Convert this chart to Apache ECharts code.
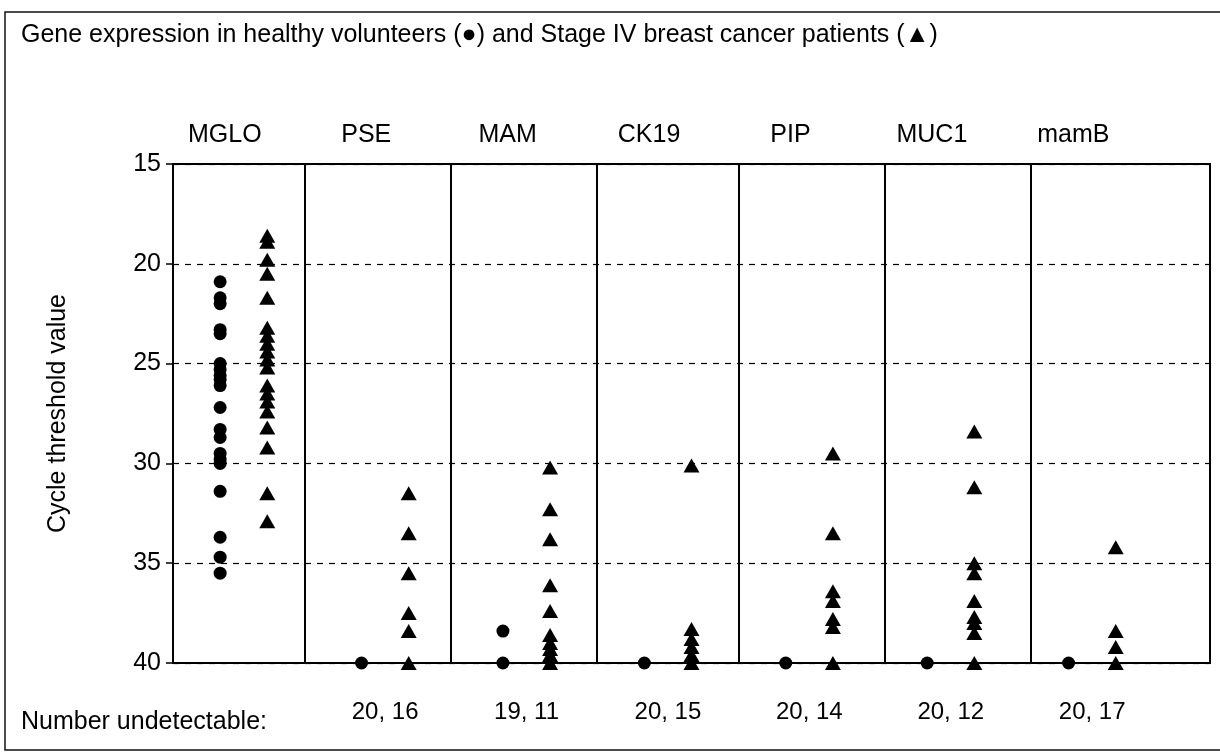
<!DOCTYPE html>
<html>
<head>
<meta charset="utf-8">
<title>Gene expression</title>
<script src="https://cdn.jsdelivr.net/npm/echarts@6/dist/echarts.min.js"></script>
<style>
  html, body { margin: 0; padding: 0; background: #fff; }
  #container { width: 1220px; height: 754px; }
</style>
</head>
<body>
<div id="container"></div>
<script type="text/javascript">
// genes, left to right
var genes = ['MGLO', 'PSE', 'MAM', 'CK19', 'PIP', 'MUC1', 'mamB'];
var undetectable = ['', '20, 16', '19, 11', '20, 15', '20, 14', '20, 12', '20, 17'];
var yTicks = [15, 20, 25, 30, 35, 40];

// cycle threshold values, healthy volunteers (circles)
var healthy = [
  [20.9, 21.7, 22.0, 23.3, 23.5, 25.0, 25.3, 25.6, 25.8, 26.1, 27.2, 28.3, 28.7, 29.5, 29.8, 30.0, 31.4, 33.7, 34.7, 35.5],
  [40],
  [38.4, 40],
  [40],
  [40],
  [40],
  [40]
];
// cycle threshold values, Stage IV patients (triangles)
var patients = [
  [18.6, 18.9, 19.8, 20.5, 21.7, 23.2, 23.6, 24.0, 24.4, 24.8, 25.2, 26.1, 26.5, 26.9, 27.4, 28.2, 29.2, 31.5, 32.9],
  [31.5, 33.5, 35.5, 37.5, 38.4, 40],
  [30.2, 32.3, 33.8, 36.1, 37.4, 38.6, 39.0, 39.3, 39.6, 40],
  [30.1, 38.3, 38.8, 39.2, 39.6, 40],
  [29.5, 33.5, 36.4, 36.9, 37.8, 38.2, 40],
  [28.4, 31.2, 35.0, 35.5, 36.9, 37.7, 38.0, 38.5, 40],
  [34.2, 38.4, 39.2, 40]
];
// column separators on the x scale
var dividers = [2.8, 5.9, 9.0, 12.0, 15.1, 18.2];

var font = 'Liberation Sans, Arial, sans-serif';

function points(groups, shift) {
  var out = [];
  for (var i = 0; i < groups.length; i++) {
    for (var j = 0; j < groups[i].length; j++) {
      out.push([3 * i + shift, groups[i][j]]);
    }
  }
  return out;
}

var labelPos = genes.map(function (g, i) { return 3 * i + 1.1; });
var countPos = [];
for (var i = 1; i < genes.length; i++) countPos.push(3 * i + 1.5);

var mychart = echarts.init(document.getElementById('container'));
var option = {
  backgroundColor: '#fff',
  animation: false,
  title: [
    {
      text: 'Gene expression in healthy volunteers (\u25CF) and Stage IV breast cancer patients (\u25B2)',
      left: 16, top: 18,
      textStyle: { fontFamily: font, fontSize: 25, fontWeight: 'normal', color: '#000' }
    },
    {
      text: 'Number undetectable:',
      left: 16, top: 705,
      textStyle: { fontFamily: font, fontSize: 25, fontWeight: 'normal', color: '#000' }
    }
  ],
  graphic: [{
    type: 'rect',
    shape: { x: 5, y: 12, width: 1240, height: 738 },
    style: { fill: 'none', stroke: '#111', lineWidth: 1.5 },
    silent: true
  }],
  grid: {
    left: 173, right: 10, top: 164, bottom: 91,
    show: true, borderColor: '#000', borderWidth: 2
  },
  xAxis: [
    {
      type: 'value', min: 0, max: 22, position: 'bottom',
      axisLine: { show: false }, axisTick: { show: false }, splitLine: { show: false },
      axisLabel: {
        customValues: countPos,
        margin: 37,
        fontFamily: font, fontSize: 24, color: '#000',
        formatter: function (v) { return undetectable[Math.round((v - 1.5) / 3)]; }
      }
    },
    {
      type: 'value', min: 0, max: 22, position: 'top',
      axisLine: { show: false }, axisTick: { show: false }, splitLine: { show: false },
      axisLabel: {
        customValues: labelPos,
        margin: 16,
        fontFamily: font, fontSize: 25, color: '#000',
        formatter: function (v) { return genes[Math.round((v - 1.1) / 3)]; }
      }
    }
  ],
  yAxis: {
    type: 'value', inverse: true, min: yTicks[0], max: yTicks[yTicks.length - 1], interval: 5,
    name: 'Cycle threshold value', nameLocation: 'middle', nameRotate: 90, nameGap: 102,
    nameTextStyle: { fontFamily: font, fontSize: 25, color: '#000' },
    axisLine: { show: true, lineStyle: { color: '#000', width: 2 } },
    axisTick: { show: true, inside: false, length: 7, lineStyle: { color: '#000', width: 1.5 } },
    axisLabel: { fontFamily: font, fontSize: 25, color: '#000', margin: 12 },
    splitLine: { show: true, lineStyle: { color: '#000', width: 1.2, type: [6, 6] } }
  },
  series: [
    {
      name: 'healthy', type: 'scatter', xAxisIndex: 0,
      symbol: 'circle', symbolSize: 13,
      itemStyle: { color: '#000', opacity: 1 },
      data: points(healthy, 1),
      markLine: {
        silent: true, symbol: 'none', label: { show: false },
        lineStyle: { color: '#000', width: 2, type: 'solid' },
        data: dividers.map(function (d) { return { xAxis: d }; })
      }
    },
    {
      name: 'patients', type: 'scatter', xAxisIndex: 0,
      symbol: 'triangle', symbolSize: [16, 14],
      itemStyle: { color: '#000', opacity: 1 },
      data: points(patients, 2)
    }
  ]
};
mychart.setOption(option);
</script>
</body>
</html>
